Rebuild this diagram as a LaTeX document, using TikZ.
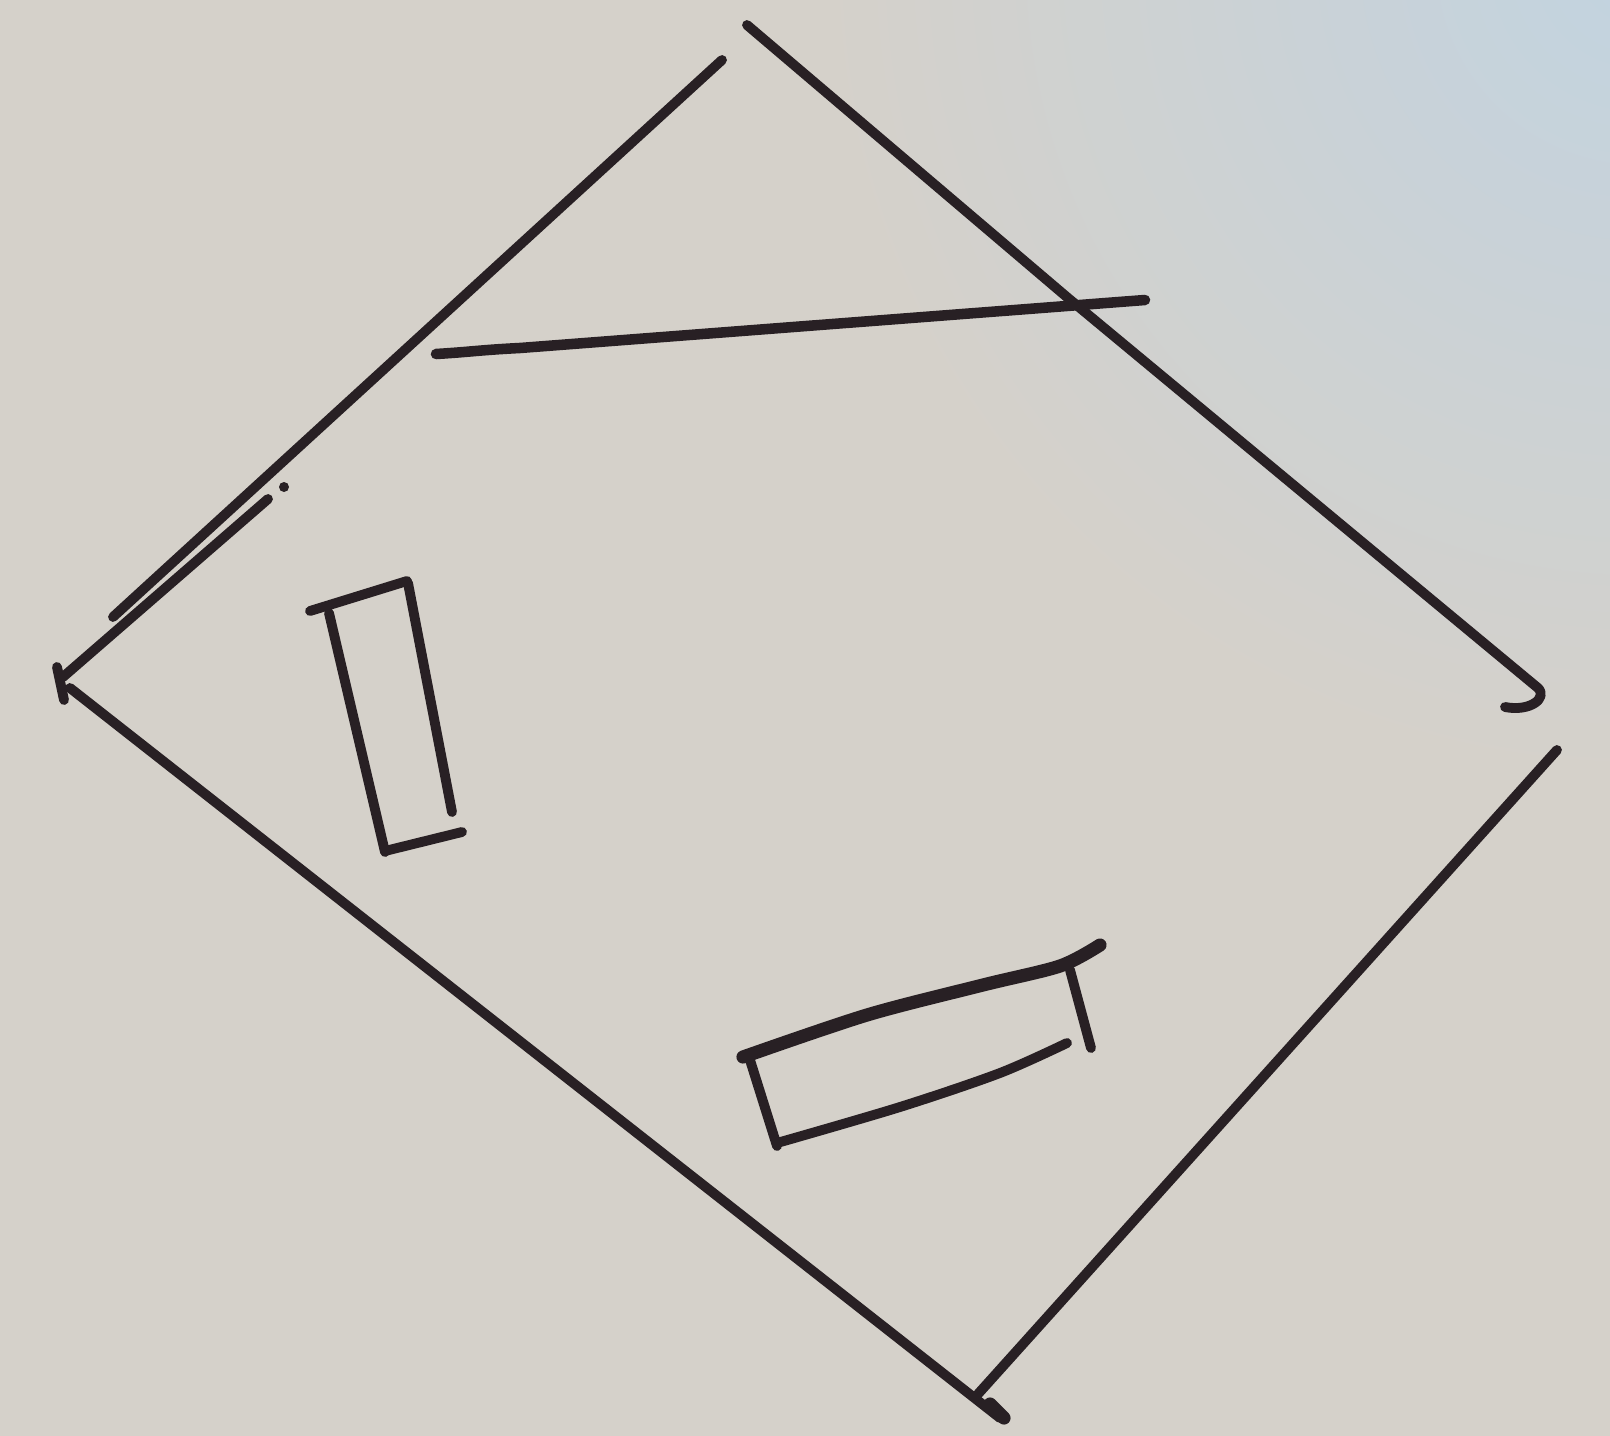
\documentclass[tikz,border=0pt]{standalone}
\begin{document}
\begin{tikzpicture}[x=0.02cm,y=-0.02cm,
  pen/.style={draw=ink,line width=5.6pt,line cap=round,line join=round},
  thickpen/.style={pen,line width=7.5pt}]
\definecolor{paper}{RGB}{213,209,202}
\definecolor{sky}{RGB}{194,211,224}
\definecolor{ink}{RGB}{40,32,36}
\useasboundingbox (0,0) rectangle (1610,1436);
\begin{scope}
\clip (0,0) rectangle (1610,1436);
\fill[paper] (0,0) rectangle (1610,1436);
\shade[inner color=sky,outer color=paper] (1640,-40) circle[radius=820];
\end{scope}
% outer quadrilateral
\draw[pen] (722,60) -- (113,617);
\draw[pen] (268,499) -- (63,677);
\fill[ink] (284,487) circle[radius=5];
\draw[pen] (57,667) -- (64,700);
\draw[pen] (70,688) -- (1000,1418);
\draw[thickpen] (990,1404) -- (1004,1418);
\draw[pen] (747,25) -- (1068,298) -- (1538,688)
  .. controls (1548,698) and (1530,712) .. (1505,707);
\draw[pen] (1557,750) -- (978,1394);
% cross line
\draw[pen,line width=6pt] (436,354) .. controls (470,352) and (480,350) .. (520,348)
  -- (1145,300);
% rectangle 1
\draw[pen] (310,611) -- (407,581);
\draw[pen] (329,613) -- (385,852);
\draw[pen] (408,583) -- (452,812);
\draw[pen] (385,851) -- (462,832);
% rectangle 2
\draw[thickpen] plot[smooth] coordinates {(743,1057) (867,1015) (983,985) (1060,966) (1100,945)};
\draw[pen] (750,1060) -- (777,1146);
\draw[pen] plot[smooth] coordinates {(777,1143) (900,1107) (1000,1073) (1067,1043)};
\draw[pen] (1070,970) -- (1091,1048);
\end{tikzpicture}
\end{document}
